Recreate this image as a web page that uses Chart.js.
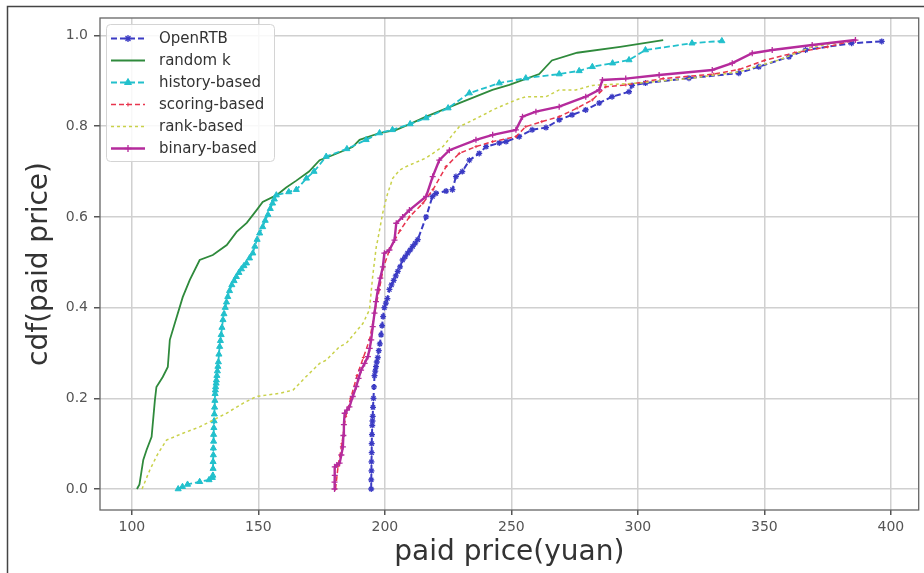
<!DOCTYPE html>
<html><head><meta charset="utf-8">
<script src="https://cdn.jsdelivr.net/npm/chart.js@4/dist/chart.umd.min.js"></script>
<style>
html,body{margin:0;padding:0;background:#fff;}
#wrap{position:relative;width:924px;height:573px;}
</style></head><body>
<div id="wrap"><canvas id="c" width="924" height="573"></canvas></div>
<script>
// ---- data ----
const seriesNames = ['OpenRTB','random k','history-based','scoring-based','rank-based','binary-based'];

const openrtbX = [194.6,194.6,194.7,194.7,194.8,194.8,194.9,195.0,195.1,195.2,195.3,195.5,195.7,195.9,196.2,196.5,196.8,197.2,197.6,198.0,198.5,198.9,199.3,199.8,200.4,201.0,201.8,202.6,203.5,204.3,205.1,206.0,207.0,208.0,209.0,210.0,211.0,212.0,213.0,216.3,218.8,220.2,224.2,226.7,228.1,230.6,233.4,237.3,240.0,245.2,247.9,253.1,258.2,263.7,268.9,274.0,279.4,284.7,289.8,296.5,297.7,303.0,320.2,339.9,347.8,359.7,366.3,384.5,396.4];
const openrtbY = [0.0,0.02,0.04,0.06,0.08,0.10,0.12,0.14,0.15,0.16,0.18,0.20,0.225,0.25,0.26,0.27,0.28,0.29,0.305,0.32,0.34,0.36,0.38,0.40,0.41,0.42,0.44,0.45,0.46,0.47,0.48,0.49,0.505,0.512,0.52,0.527,0.535,0.542,0.55,0.60,0.645,0.652,0.657,0.66,0.689,0.70,0.725,0.74,0.755,0.763,0.766,0.777,0.792,0.797,0.814,0.825,0.836,0.851,0.865,0.876,0.89,0.895,0.906,0.917,0.931,0.953,0.968,0.983,0.987];

const randomKX = [102.0,103.0,104.5,105.8,107.8,109.1,109.7,112.2,114.2,115.0,117.0,120.1,122.9,126.8,132.0,137.5,141.4,145.4,149.3,151.7,157.2,161.0,165.0,170.0,174.2,179.3,187.2,190.0,197.9,204.5,210.0,216.3,229.4,242.5,249.2,261.0,266.0,276.0,293.0,310.0];
const randomKY = [0.0,0.01,0.064,0.086,0.115,0.196,0.225,0.247,0.269,0.329,0.366,0.423,0.461,0.505,0.516,0.538,0.567,0.587,0.615,0.633,0.648,0.665,0.68,0.70,0.725,0.736,0.754,0.77,0.785,0.792,0.805,0.821,0.851,0.88,0.891,0.915,0.945,0.962,0.975,0.99];

const historyX = [118.3,120.0,122.0,126.8,130.5,131.8,132.0,132.1,132.1,132.2,132.2,132.3,132.3,132.4,132.5,132.6,132.7,132.8,132.9,133.0,133.1,133.3,133.4,133.6,133.8,134.0,134.2,134.4,134.7,135.0,135.3,135.6,136.0,136.4,136.9,137.4,137.9,138.6,139.5,140.4,141.3,142.3,143.3,144.3,145.3,146.5,147.8,148.6,149.5,150.5,151.7,152.7,153.8,154.7,155.6,156.3,157.1,162.0,165.0,169.0,172.0,176.8,185.0,192.6,197.9,203.0,210.0,216.3,225.0,233.4,245.2,255.7,268.9,276.8,282.0,290.0,296.5,303.0,321.4,333.2];
const historyY = [0.0,0.005,0.01,0.016,0.02,0.025,0.03,0.045,0.06,0.075,0.09,0.105,0.12,0.135,0.15,0.165,0.18,0.195,0.21,0.218,0.225,0.233,0.24,0.25,0.26,0.27,0.28,0.297,0.314,0.327,0.34,0.356,0.373,0.386,0.40,0.412,0.424,0.437,0.45,0.459,0.468,0.477,0.485,0.492,0.498,0.509,0.52,0.535,0.55,0.564,0.578,0.592,0.605,0.618,0.63,0.639,0.648,0.655,0.66,0.685,0.70,0.733,0.75,0.77,0.785,0.792,0.805,0.818,0.84,0.873,0.895,0.906,0.915,0.922,0.931,0.939,0.946,0.968,0.983,0.988];

const scoringX = [180.5,181.5,183.0,184.5,186.5,189.0,191.5,194.0,196.0,197.8,199.5,202.0,206.0,209.7,215.0,219.0,224.2,229.4,236.0,242.6,251.8,255.7,262.0,268.9,276.0,282.0,287.3,295.2,310.0,330.0,340.0,350.0,362.0,375.0,386.0];
const scoringY = [0.0,0.05,0.1,0.16,0.2,0.25,0.29,0.33,0.39,0.44,0.49,0.53,0.57,0.60,0.63,0.66,0.711,0.74,0.755,0.766,0.777,0.799,0.81,0.821,0.84,0.858,0.887,0.891,0.905,0.915,0.925,0.945,0.962,0.975,0.99];

const rankX = [104.0,107.1,110.0,113.7,120.2,126.8,132.1,137.4,143.9,149.2,158.4,163.7,168.9,174.2,176.8,182.1,184.7,191.3,193.9,195.2,196.6,197.2,199.2,201.0,203.1,205.8,208.4,216.3,222.9,229.4,232.1,240.0,242.6,251.8,255.7,263.7,268.9,275.5,282.0,300.0,320.0,340.0,355.7,368.9,386.0];
const rankY = [0.0,0.042,0.075,0.108,0.123,0.137,0.152,0.167,0.189,0.204,0.211,0.218,0.248,0.277,0.284,0.314,0.321,0.365,0.395,0.47,0.534,0.55,0.61,0.65,0.685,0.703,0.711,0.73,0.755,0.799,0.806,0.828,0.836,0.858,0.865,0.865,0.88,0.88,0.89,0.895,0.905,0.92,0.946,0.975,0.99];

const binaryX = [180.1,180.1,180.2,180.2,181.0,182.1,182.8,183.4,183.6,183.8,184.1,185.0,186.0,187.3,188.7,189.6,190.6,192.0,193.3,194.0,194.6,195.2,195.9,196.5,197.2,198.2,199.2,199.8,201.8,203.8,204.5,207.0,209.7,216.3,218.9,221.5,225.5,236.0,242.6,251.8,254.4,259.7,268.9,279.4,284.7,286.0,295.2,308.4,329.4,337.3,345.2,353.1,368.9,386.0];
const binaryY = [0.0,0.015,0.03,0.049,0.053,0.057,0.075,0.093,0.118,0.142,0.167,0.174,0.181,0.204,0.226,0.244,0.262,0.277,0.292,0.31,0.329,0.358,0.388,0.413,0.439,0.465,0.49,0.52,0.527,0.549,0.586,0.60,0.615,0.645,0.689,0.725,0.747,0.77,0.781,0.792,0.821,0.832,0.843,0.865,0.88,0.902,0.905,0.913,0.924,0.939,0.961,0.968,0.979,0.99];

const xTicks = [100,150,200,250,300,350,400];
const yTicks = [0.0,0.2,0.4,0.6,0.8,1.0];
const xAxisTitle = 'paid price(yuan)';
const yAxisTitle = 'cdf(paid price)';

// ---- build ----
const pts = (xs, ys) => xs.map((x, i) => ({x: x, y: ys[i]}));
const FONT = '"DejaVu Sans", "Liberation Sans", sans-serif';
Chart.defaults.font.family = FONT;

const datasets = [
  {label: seriesNames[0], data: pts(openrtbX, openrtbY), borderColor:'#3b3bc4', backgroundColor:'#3b3bc4',
   borderWidth:2, borderDash:[6,3], pointStyle:'star', pointRadius:3, pointBorderWidth:1.3, order:5},
  {label: seriesNames[1], data: pts(randomKX, randomKY), borderColor:'#2f8a3c', backgroundColor:'#2f8a3c',
   borderWidth:1.8, pointRadius:0, order:4},
  {label: seriesNames[2], data: pts(historyX, historyY), borderColor:'#22c0cc', backgroundColor:'#22c0cc',
   borderWidth:1.8, borderDash:[6,3], pointStyle:'triangle', pointRadius:3.5, pointBorderWidth:1, order:3},
  {label: seriesNames[3], data: pts(scoringX, scoringY), borderColor:'#e8354e', backgroundColor:'#e8354e',
   borderWidth:1.5, borderDash:[5,3], pointStyle:'cross', pointRadius:1.5, pointBorderWidth:1, order:2},
  {label: seriesNames[4], data: pts(rankX, rankY), borderColor:'#c9d14a', backgroundColor:'#c9d14a',
   borderWidth:1.5, borderDash:[3,3], pointRadius:0, order:1},
  {label: seriesNames[5], data: pts(binaryX, binaryY), borderColor:'#b52b9c', backgroundColor:'#b52b9c',
   borderWidth:2.4, pointStyle:'cross', pointRadius:3, pointBorderWidth:1.3, order:0}
];

const framePlugin = {
  id: 'frame',
  beforeDraw(chart) {
    const ctx = chart.ctx;
    ctx.save();
    ctx.fillStyle = '#fff';
    ctx.fillRect(0, 0, chart.width, chart.height);
    ctx.strokeStyle = '#444';
    ctx.lineWidth = 1.5;
    ctx.beginPath();
    ctx.moveTo(7.5, chart.height); ctx.lineTo(7.5, 6.5); ctx.lineTo(chart.width, 6.5);
    ctx.stroke();
    ctx.restore();
  },
  afterDatasetsDraw(chart) {
    const a = chart.chartArea, ctx = chart.ctx;
    ctx.save();
    ctx.strokeStyle = '#666';
    ctx.lineWidth = 1.3;
    ctx.strokeRect(a.left, a.top, a.right - a.left, a.bottom - a.top);
    ctx.restore();
  }
};

const legendPlugin = {
  id: 'boxLegend',
  afterDraw(chart) {
    const ctx = chart.ctx;
    const x0 = 106.5, y0 = 24.5, w = 168, h = 137, r = 4;
    ctx.save();
    ctx.fillStyle = 'rgba(255,255,255,0.85)';
    ctx.strokeStyle = '#d4d4d4';
    ctx.lineWidth = 1;
    ctx.beginPath();
    ctx.moveTo(x0 + r, y0); ctx.lineTo(x0 + w - r, y0); ctx.arcTo(x0 + w, y0, x0 + w, y0 + r, r);
    ctx.lineTo(x0 + w, y0 + h - r); ctx.arcTo(x0 + w, y0 + h, x0 + w - r, y0 + h, r);
    ctx.lineTo(x0 + r, y0 + h); ctx.arcTo(x0, y0 + h, x0, y0 + h - r, r);
    ctx.lineTo(x0, y0 + r); ctx.arcTo(x0, y0, x0 + r, y0, r);
    ctx.closePath(); ctx.fill(); ctx.stroke();
    chart.data.datasets.forEach((ds, i) => {
      const yy = 38.5 + i * 22;
      ctx.strokeStyle = ds.borderColor;
      ctx.lineWidth = ds.borderWidth;
      ctx.setLineDash(ds.borderDash || []);
      ctx.beginPath(); ctx.moveTo(111, yy); ctx.lineTo(145, yy); ctx.stroke();
      ctx.setLineDash([]);
      if (ds.pointRadius > 0) {
        ctx.fillStyle = ds.backgroundColor;
        ctx.strokeStyle = ds.borderColor;
        ctx.lineWidth = ds.pointBorderWidth || 1;
        Chart.helpers.drawPoint(ctx, {pointStyle: ds.pointStyle, radius: ds.pointRadius + 0.5,
          borderWidth: ds.pointBorderWidth || 1, rotation: 0}, 128, yy);
      }
      ctx.fillStyle = '#333';
      ctx.font = '15px ' + FONT;
      ctx.textBaseline = 'middle';
      ctx.textAlign = 'left';
      ctx.fillText(ds.label, 159, yy + 1);
    });
    ctx.restore();
  }
};

new Chart(document.getElementById('c'), {
  type: 'line',
  data: {datasets: datasets},
  plugins: [framePlugin, legendPlugin],
  options: {
    responsive: false,
    animation: false,
    devicePixelRatio: 1,
    layout: {padding: {top: 18, right: 4, bottom: 0, left: 0}},
    elements: {line: {tension: 0, fill: false}},
    plugins: {legend: {display: false}, tooltip: {enabled: false}},
    scales: {
      x: {
        type: 'linear', min: 87.4, max: 411.0,
        afterBuildTicks: s => { s.ticks = xTicks.map(v => ({value: v})); },
        afterFit: s => { s.height = 63; },
        grid: {color: '#d0d0d0', lineWidth: 1.5, tickColor: '#555', tickLength: 5, drawTicks: true},
        border: {display: false},
        ticks: {color: '#555', font: {size: 14}, padding: 4, maxRotation: 0, autoSkip: false,
                callback: v => String(v)},
        title: {display: true, text: xAxisTitle, color: '#333', font: {size: 28},
                padding: {top: 0, bottom: 3}}
      },
      y: {
        type: 'linear', min: -0.0463, max: 1.0386,
        afterBuildTicks: s => { s.ticks = yTicks.map(v => ({value: v})); },
        afterFit: s => { s.width = 100; },
        grid: {color: '#d0d0d0', lineWidth: 1.5, tickColor: '#555', tickLength: 6, drawTicks: true},
        border: {display: false},
        ticks: {color: '#555', font: {size: 14}, padding: 6, autoSkip: false,
                callback: v => Number(v).toFixed(1)},
        title: {display: true, text: yAxisTitle, color: '#333', font: {size: 28},
                padding: {top: 23, bottom: 0}}
      }
    }
  }
});
</script>
</body></html>
